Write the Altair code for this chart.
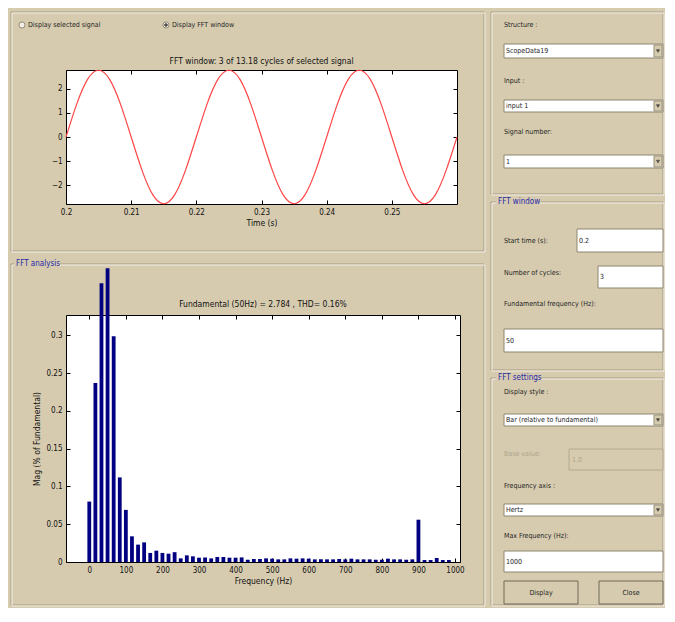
import altair as alt
import pandas as pd

# ---------------- chart data ----------------
sine_time = [0.2, 0.20167, 0.20333, 0.205, 0.20667, 0.20833,
             0.21, 0.21167, 0.21333, 0.215, 0.21667, 0.21833,
             0.22, 0.22167, 0.22333, 0.225, 0.22667, 0.22833,
             0.23, 0.23167, 0.23333, 0.235, 0.23667, 0.23833,
             0.24, 0.24167, 0.24333, 0.245, 0.24667, 0.24833,
             0.25, 0.25167, 0.25333, 0.255, 0.25667, 0.25833, 0.26]
sine_value = [0, 1.39, 2.41, 2.78, 2.41, 1.39, 0, -1.39, -2.41, -2.78, -2.41, -1.39,
              0, 1.39, 2.41, 2.78, 2.41, 1.39, 0, -1.39, -2.41, -2.78, -2.41, -1.39,
              0, 1.39, 2.41, 2.78, 2.41, 1.39, 0, -1.39, -2.41, -2.78, -2.41, -1.39,
              0]

fft_freq = [0, 16.67, 33.33, 50, 66.67, 83.33, 100, 116.67, 133.33, 150,
            166.67, 183.33, 200, 216.67, 233.33, 250, 266.67, 283.33, 300, 316.67,
            333.33, 350, 366.67, 383.33, 400, 416.67, 433.33, 450, 466.67, 483.33,
            500, 516.67, 533.33, 550, 566.67, 583.33, 600, 616.67, 633.33, 650,
            666.67, 683.33, 700, 716.67, 733.33, 750, 766.67, 783.33, 800, 816.67,
            833.33, 850, 866.67, 883.33, 900, 916.67, 933.33, 950, 966.67, 983.33]
fft_mag = [0.080, 0.237, 0.369, 0.389, 0.299, 0.112, 0.069, 0.034, 0.023, 0.026,
           0.012, 0.015, 0.012, 0.011, 0.013, 0.0048, 0.0088, 0.0075, 0.0057, 0.006,
           0.0048, 0.0066, 0.0066, 0.0057, 0.0057, 0.0061, 0.003, 0.004, 0.004, 0.0048,
           0.0044, 0.0035, 0.0035, 0.0048, 0.0044, 0.0048, 0.0044, 0.0035, 0.0035, 0.0035,
           0.0035, 0.004, 0.0035, 0.0044, 0.0035, 0.0035, 0.0035, 0.003, 0.003, 0.0044,
           0.0035, 0.0035, 0.003, 0.0035, 0.056, 0.0026, 0.0026, 0.0053, 0.0026, 0.0026]

sine_title = "FFT window: 3 of 13.18 cycles of selected signal"
fft_title = "Fundamental (50Hz) = 2.784 , THD= 0.16%"
time_ticks = [0.2, 0.21, 0.22, 0.23, 0.24, 0.25]
amp_ticks = [-2, -1, 0, 1, 2]
freq_ticks = [0, 100, 200, 300, 400, 500, 600, 700, 800, 900, 1000]
mag_ticks = [0, 0.05, 0.1, 0.15, 0.2, 0.25, 0.3]

# ---------------- GUI text content ----------------
radio_labels = ["Display selected signal", "Display FFT window"]
panel_titles = ["FFT analysis", "FFT window", "FFT settings"]
field_labels = ["Structure :", "Input :", "Signal number:", "Start time (s):",
                "Number of cycles:", "Fundamental frequency (Hz):", "Display style :",
                "Base value:", "Frequency axis :", "Max Frequency (Hz):"]
field_values = ["ScopeData19", "input 1", "1", "0.2", "3", "50",
                "Bar (relative to fundamental)", "1.0", "Hertz", "1000"]
button_labels = ["Display", "Close"]

# ---------------- styling ----------------
FONT = "Liberation Sans Narrow, Arial Narrow, DejaVu Sans Condensed, Liberation Sans, sans-serif"
TAN = "#D6CBAF"
SHADOW = "#A49A80"
HILITE = "#F4F0E6"
TXT = "#1E1E1E"
BLUE = "#2A2AA8"
GREY = "#ADA48C"
NAVY = "#000080"
RED = "#FF4545"

# ---------------- GUI layout (reference page pixels) ----------------
OX, OY = 65, 69  # top-left of the sine plot area; GUI drawn relative to it
frame_boxes = [(10, 11, 483, 250), (10, 263, 483, 604), (490, 11, 662, 193),
               (490, 201, 662, 369), (490, 377, 662, 604)]
panel_title_xy = [(15, 263, 42), (497, 201, 38), (497, 377, 41)]
label_xy = [(503, 24), (503, 80), (503, 131), (503, 240), (503, 272), (503, 303),
            (503, 391), (503, 453), (503, 485), (503, 535)]
box_rect = [(503, 43, 662, 57), (503, 99, 662, 111), (503, 154, 662, 167),
            (576, 228, 662, 251), (597, 265, 662, 287), (503, 328, 662, 351),
            (503, 413, 662, 425), (568, 448, 662, 469), (503, 503, 662, 515),
            (503, 550, 662, 571)]
box_kind = ["popup", "popup", "popup", "edit", "edit", "edit", "popup", "disabled", "popup", "edit"]
button_rect = [(503, 580, 577, 603), (598, 580, 662, 603)]
radio_xy = [(21, 24), (165, 24)]
radio_selected = 1

rect_rows, text_rows, ctext_rows, pt_rows = [], [], [], []


def add_rect(x1, y1, x2, y2, fill, stroke):
    rect_rows.append(dict(x1=x1 - OX, y1=y1 - OY, x2=x2 - OX, y2=y2 - OY, fill=fill, stroke=stroke))


def add_text(rows, t, x, y, c=TXT, s=8):
    rows.append(dict(t=t, x=x - OX, y=y - OY, c=c, s=s))


# invisible rect that defines the overall window extent
add_rect(8, 8, 663, 606, "transparent", "transparent")
for (a, b, c, d) in frame_boxes:
    add_rect(a, b, c, d, "transparent", SHADOW)
    add_rect(a + 1, b + 1, c + 1, d + 1, "transparent", HILITE)
for (x, y, w), t in zip(panel_title_xy, panel_titles):
    add_rect(x - 2, y - 5, x + w + 2, y + 5, TAN, "transparent")
    add_text(text_rows, t, x, y, BLUE, 8)
for (x, y), t in zip(radio_xy, radio_labels):
    add_text(text_rows, t, x + 6, y, TXT, 7)
    pt_rows.append(dict(x=x - OX, y=y - OY, shape="circle", s=38, fill="white", stroke="#7A7262"))
rx, ry = radio_xy[radio_selected]
pt_rows.append(dict(x=rx - OX, y=ry - OY, shape="circle", s=7, fill="#111", stroke="#111"))
for (x, y), t, kind in zip(label_xy, field_labels, box_kind):
    add_text(text_rows, t, x, y, GREY if kind == "disabled" else TXT, 7)
for (a, b, c, d), v, kind in zip(box_rect, field_values, box_kind):
    if kind == "disabled":
        add_rect(a, b, c, d, TAN, "#B3A991")
        add_text(text_rows, v, a + 3, (b + d) / 2, GREY, 7)
    else:
        add_rect(a, b, c, d, "white", "#8E8570")
        add_text(text_rows, v, a + 2, (b + d) / 2, TXT, 7)
    if kind == "popup":
        add_rect(c - 9, b + 1, c - 1, d - 1, TAN, "#9A917A")
        pt_rows.append(dict(x=c - 5 - OX, y=(b + d) / 2 - OY, shape="triangle-down", s=8, fill="#222", stroke="#222"))
for (a, b, c, d), t in zip(button_rect, button_labels):
    add_rect(a, b, c, d, TAN, "#6F6857")
    add_text(ctext_rows, t, (a + c) / 2, (b + d) / 2, TXT, 7)

px_x = dict(scale=None, axis=None)

gui_rects = alt.Chart(pd.DataFrame(rect_rows)).mark_rect(strokeWidth=1).encode(
    x=alt.X("x1:Q", **px_x), x2="x2:Q",
    y=alt.Y("y1:Q", **px_x), y2="y2:Q",
    fill=alt.Fill("fill:N", scale=None),
    stroke=alt.Stroke("stroke:N", scale=None),
)
gui_pts = alt.Chart(pd.DataFrame(pt_rows)).mark_point(filled=True, strokeWidth=1).encode(
    x=alt.X("x:Q", **px_x), y=alt.Y("y:Q", **px_x),
    shape=alt.Shape("shape:N", scale=None),
    size=alt.Size("s:Q", scale=None),
    fill=alt.Fill("fill:N", scale=None),
    stroke=alt.Stroke("stroke:N", scale=None),
)
gui_text = alt.Chart(pd.DataFrame(text_rows)).mark_text(align="left", baseline="middle", font=FONT).encode(
    x=alt.X("x:Q", **px_x), y=alt.Y("y:Q", **px_x),
    text="t:N", color=alt.Color("c:N", scale=None), size=alt.Size("s:Q", scale=None),
)
gui_ctext = alt.Chart(pd.DataFrame(ctext_rows)).mark_text(align="center", baseline="middle", font=FONT).encode(
    x=alt.X("x:Q", **px_x), y=alt.Y("y:Q", **px_x),
    text="t:N", color=alt.Color("c:N", scale=None), size=alt.Size("s:Q", scale=None),
)

# ---------------- plots ----------------
axis_common = dict(domain=False, grid=False, tickSize=4, offset=-4, tickColor="#000",
                   labelPadding=4, labelColor="#111", labelFont=FONT, labelFontSize=8,
                   labelFlush=False, labelOverlap=False,
                   titleFont=FONT, titleFontSize=8.5, titleFontWeight="normal", titleColor="#111")
mirror_common = dict(domain=False, grid=False, tickSize=4, offset=-4, tickColor="#000",
                     labels=False, title=None)

SINE_W, SINE_H = 391, 134
BAR_W, BAR_H = 394, 247

sine_df = pd.DataFrame({"t": sine_time, "v": sine_value})
sx = alt.Scale(domain=[0.2, 0.26], nice=False, zero=False)
sy = alt.Scale(domain=[-2.79, 2.79], nice=False, zero=False)
sine_line = alt.Chart(sine_df).mark_line(color=RED, strokeWidth=1.2, interpolate="natural").encode(
    x=alt.X("t:Q", scale=sx, axis=alt.Axis(values=time_ticks, format="~g", title="Time (s)",
                                           titlePadding=2, **axis_common)),
    y=alt.Y("v:Q", scale=sy, axis=alt.Axis(values=amp_ticks, format="d", title=None, **axis_common)),
)
sine_mirror = alt.Chart(sine_df).mark_line(opacity=0).encode(
    x=alt.X("t:Q", scale=sx, axis=alt.Axis(values=time_ticks, orient="top", **mirror_common)),
    y=alt.Y("v:Q", scale=sy, axis=alt.Axis(values=amp_ticks, orient="right", **mirror_common)),
)
sine_title_mark = alt.Chart(pd.DataFrame({"t": [sine_title]})).mark_text(
    font=FONT, fontSize=8.5, color="#111", align="center", baseline="middle"
).encode(text="t:N", x=alt.value(SINE_W / 2), y=alt.value(-9))

top = alt.layer(sine_line, sine_mirror, gui_rects, gui_pts, gui_text, gui_ctext, sine_title_mark).resolve_axis(
    x="independent", y="independent"
).properties(width=SINE_W, height=SINE_H)

fft_df = pd.DataFrame({"f": fft_freq, "m": fft_mag})
bx = alt.Scale(domain=[-50, 1000], nice=False, zero=False)
by = alt.Scale(domain=[0, 0.327], nice=False)
mag_label = "datum.value == 0 ? '0' : format(datum.value, '.2~f')"
bars = alt.Chart(fft_df).mark_bar(size=3.8, color=NAVY).encode(
    x=alt.X("f:Q", scale=bx, axis=alt.Axis(values=freq_ticks, format="d", title="Frequency (Hz)",
                                           titlePadding=2, **axis_common)),
    y=alt.Y("m:Q", scale=by, axis=alt.Axis(values=mag_ticks, labelExpr=mag_label,
                                           title="Mag (% of Fundamental)", titlePadding=4, **axis_common)),
)
bars_mirror = alt.Chart(fft_df).mark_bar(size=3.8, opacity=0).encode(
    x=alt.X("f:Q", scale=bx, axis=alt.Axis(values=freq_ticks, orient="top", **mirror_common)),
    y=alt.Y("m:Q", scale=by, axis=alt.Axis(values=mag_ticks, orient="right", **mirror_common)),
)
fft_title_mark = alt.Chart(pd.DataFrame({"t": [fft_title]})).mark_text(
    font=FONT, fontSize=8.5, color="#111", align="center", baseline="middle"
).encode(text="t:N", x=alt.value(BAR_W / 2), y=alt.value(-11))

bottom = alt.layer(bars, bars_mirror, fft_title_mark).resolve_axis(
    x="independent", y="independent"
).properties(width=BAR_W, height=BAR_H)

chart = alt.vconcat(top, bottom, spacing=111, bounds="flush").properties(
    background=TAN, padding=0
).configure_view(stroke="#000", strokeWidth=1, fill="white")

chart.save("out.html", embed_options={"renderer": "svg", "actions": False})
